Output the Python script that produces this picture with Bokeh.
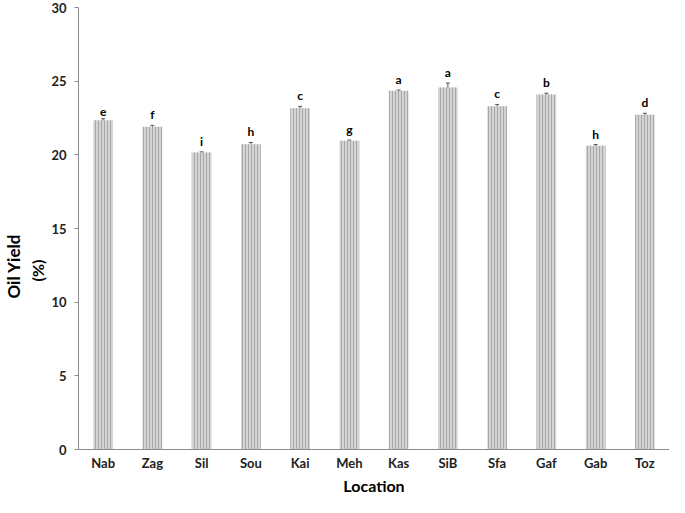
from bokeh.plotting import figure
from bokeh.models import ColumnDataSource, Whisker, LabelSet, Title, Range1d, FixedTicker
from bokeh.core.properties import value
from bokeh.embed import file_html
from bokeh.resources import INLINE

locations = ["Nab", "Zag", "Sil", "Sou", "Kai", "Meh", "Kas", "SiB", "Sfa", "Gaf", "Gab", "Toz"]
oil_yield = [22.35, 21.9, 20.15, 20.72, 23.17, 20.95, 24.35, 24.57, 23.3, 24.1, 20.62, 22.72]
std_err = [0.1, 0.1, 0.05, 0.12, 0.12, 0.05, 0.05, 0.3, 0.12, 0.08, 0.08, 0.1]
letters = ["e", "f", "i", "h", "c", "g", "a", "a", "c", "b", "h", "d"]

upper = [v + e for v, e in zip(oil_yield, std_err)]
lower = [v - e for v, e in zip(oil_yield, std_err)]
src = ColumnDataSource(dict(loc=locations, val=oil_yield, up=upper, lo=lower, let=letters))

FONT = "Lato"
p = figure(x_range=locations, y_range=Range1d(0, 30), width=669, height=497,
           output_backend="svg", toolbar_location=None,
           min_border_left=0, min_border_right=0, min_border_top=7, min_border_bottom=40)
p.outline_line_color = None
p.grid.visible = False

p.vbar(x="loc", top="val", width=0.4, source=src, fill_color="#d4d4d4", line_color=None,
       hatch_pattern="vertical_line", hatch_color="#a8a8a8", hatch_scale=3, hatch_weight=1)

w = Whisker(source=src, base="loc", upper="up", lower="lo", line_color="#555555", line_width=1)
w.upper_head.size = 4
w.lower_head.size = 4
w.upper_head.line_color = "#555555"
w.lower_head.line_color = "#555555"
p.add_layout(w)

lbl = LabelSet(source=src, x="loc", y="up", text="let", text_align="center", y_offset=3,
               text_font=value(FONT), text_font_style="bold", text_font_size="12px",
               text_color="#000000")
p.add_layout(lbl)

p.yaxis.ticker = FixedTicker(ticks=[0, 5, 10, 15, 20, 25, 30])
p.yaxis.minor_tick_line_color = None
p.yaxis.major_tick_out = 4
p.yaxis.major_tick_in = 0
p.yaxis.axis_line_color = "#8c8c8c"
p.yaxis.major_tick_line_color = "#8c8c8c"
p.yaxis.major_label_text_font = FONT
p.yaxis.major_label_text_font_style = "bold"
p.yaxis.major_label_text_font_size = "13px"
p.yaxis.major_label_text_color = "#222222"
p.yaxis.major_label_standoff = 8

p.xaxis.major_tick_line_color = None
p.xaxis.minor_tick_line_color = None
p.xaxis.major_tick_out = 0
p.xaxis.major_tick_in = 0
p.xaxis.axis_line_color = "#8c8c8c"
p.xaxis.major_label_text_font = FONT
p.xaxis.major_label_text_font_style = "bold"
p.xaxis.major_label_text_font_size = "13px"
p.xaxis.major_label_text_color = "#222222"
p.xaxis.major_label_standoff = 5
p.xaxis.axis_label = "Location"
p.xaxis.axis_label_text_font = FONT
p.xaxis.axis_label_text_font_style = "bold"
p.xaxis.axis_label_text_font_size = "16px"
p.xaxis.axis_label_text_color = "#000000"
p.xaxis.axis_label_standoff = 2

# y axis title in two lines, as side titles (anchored from the bottom of the frame)
for txt, size, sb, off in [("(%)", "16px", 4, 168), ("Oil Yield", "17px", 0, 151)]:
    p.add_layout(Title(text=txt, align="left", offset=off, standoff=sb,
                       text_font=FONT, text_font_style="bold", text_font_size=size,
                       text_color="#000000"), "left")

open("out.html", "w").write(file_html(p, INLINE))
